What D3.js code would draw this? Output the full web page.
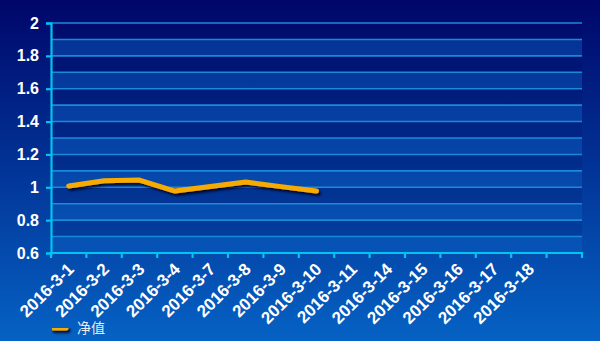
<!DOCTYPE html>
<html>
<head>
<meta charset="utf-8">
<script src="https://cdn.jsdelivr.net/npm/d3@7"></script>
<style>
  html, body { margin: 0; padding: 0; }
  svg { display: block; }
</style>
</head>
<body>
<svg id="chart" width="600" height="341"></svg>
<script>
// Net value series over trading days
const dates = ["2016-3-1", "2016-3-2", "2016-3-3", "2016-3-4", "2016-3-7", "2016-3-8", "2016-3-9",
               "2016-3-10", "2016-3-11", "2016-3-14", "2016-3-15", "2016-3-16", "2016-3-17", "2016-3-18", ""];
const netValues = [1.008, 1.040, 1.044, 0.977, 1.005, 1.032, 1.004, 0.977];
const yTicks = [0.6, 0.8, 1, 1.2, 1.4, 1.6, 1.8, 2];
const seriesName = "净值";

const W = 600, H = 341;
const margin = { left: 51, right: 18, top: 23, bottom: 88 };
const svg = d3.select("#chart");
const defs = svg.append("defs");

const bg = defs.append("linearGradient").attr("id", "bg")
  .attr("x1", 0).attr("y1", 0).attr("x2", 0).attr("y2", 1);
bg.append("stop").attr("offset", "0%").attr("stop-color", "#00066a");
bg.append("stop").attr("offset", "100%").attr("stop-color", "#0562c4");

// drop shadow in user space so zero-height strokes still render
const shadow = defs.append("filter").attr("id", "shadow")
  .attr("filterUnits", "userSpaceOnUse")
  .attr("x", 0).attr("y", 0).attr("width", W).attr("height", H);
shadow.append("feDropShadow").attr("dx", 2).attr("dy", 2.5).attr("stdDeviation", 1.3)
  .attr("flood-color", "#000020").attr("flood-opacity", 0.85);

svg.append("rect").attr("width", W).attr("height", H).attr("fill", "url(#bg)");

const x = d3.scaleBand().domain(dates.map((d, i) => i))
  .range([margin.left, W - margin.right]).padding(0);
const y = d3.scaleLinear().domain([0.6, 2]).range([H - margin.bottom, margin.top]);

// alternating bands every 0.1
const minor = d3.range(6, 20).map(v => v / 10);
svg.append("g").selectAll("rect").data(minor).join("rect")
  .attr("x", margin.left).attr("width", W - margin.right - margin.left)
  .attr("y", d => y(d + 0.1)).attr("height", d => y(d) - y(d + 0.1))
  .attr("fill", d => Math.round(d * 10) % 2 === 0 ? "#0a5fc0" : "#000a50")
  .attr("fill-opacity", d => Math.round(d * 10) % 2 === 0 ? 0.45 : 0.12);

// grid lines
svg.append("g").selectAll("line").data(d3.range(6, 21).map(v => v / 10)).join("line")
  .attr("x1", margin.left).attr("x2", W - margin.right)
  .attr("y1", d => y(d)).attr("y2", d => y(d))
  .attr("stroke", "#1a8ad8").attr("stroke-width", 1.6);

// y axis
const yAxis = svg.append("g").attr("transform", `translate(${margin.left},0)`)
  .call(d3.axisLeft(y).tickValues(yTicks).tickSize(5).tickPadding(7).tickFormat(d3.format("~g")));
yAxis.select(".domain").attr("stroke", "#00c4f2").attr("stroke-width", 2.2);
yAxis.selectAll(".tick line").attr("stroke", "#00c4f2").attr("stroke-width", 2.2);
yAxis.selectAll("text").attr("fill", "#ffffff")
  .style("font", "bold 16px 'Liberation Sans', Arial, sans-serif");

// x axis
const xTickPos = d3.range(dates.length + 1).map(i => margin.left + i * x.bandwidth());
const xAxisG = svg.append("g");
xAxisG.append("line").attr("x1", margin.left - 1).attr("x2", W - margin.right + 1)
  .attr("y1", y(0.6)).attr("y2", y(0.6))
  .attr("stroke", "#00c4f2").attr("stroke-width", 2.2);
xAxisG.selectAll("line.t").data(xTickPos).join("line").attr("class", "t")
  .attr("x1", d => d).attr("x2", d => d)
  .attr("y1", y(0.6)).attr("y2", y(0.6) + 5)
  .attr("stroke", "#00c4f2").attr("stroke-width", 2.2);
xAxisG.selectAll("text").data(dates).join("text")
  .attr("transform", (d, i) => `translate(${x(i) + x.bandwidth() / 2 + 2},${y(0.6) + 13}) rotate(-45)`)
  .attr("text-anchor", "end").attr("dy", "0.35em")
  .attr("fill", "#ffffff")
  .style("font", "bold 17px 'Liberation Sans', Arial, sans-serif")
  .text(d => d);

// series line
const line = d3.line().x((d, i) => x(i) + x.bandwidth() / 2).y(d => y(d));
svg.append("path").datum(netValues).attr("d", line)
  .attr("fill", "none").attr("stroke", "#f7ab00").attr("stroke-width", 5)
  .attr("stroke-linejoin", "round").attr("stroke-linecap", "round")
  .attr("filter", "url(#shadow)");

// legend
const lg = svg.append("g").attr("transform", "translate(52,328)");
lg.append("line").attr("x1", 1).attr("x2", 14).attr("y1", 0).attr("y2", 0)
  .attr("stroke", "#f7ab00").attr("stroke-width", 5).attr("stroke-linecap", "round")
  .attr("filter", "url(#shadow)");
lg.append("text").attr("x", 25).attr("y", 0).attr("dy", "0.36em")
  .attr("fill", "#e4ecf6")
  .style("font", "14px 'Noto Sans CJK SC', sans-serif")
  .text(seriesName);
</script>
</body>
</html>
